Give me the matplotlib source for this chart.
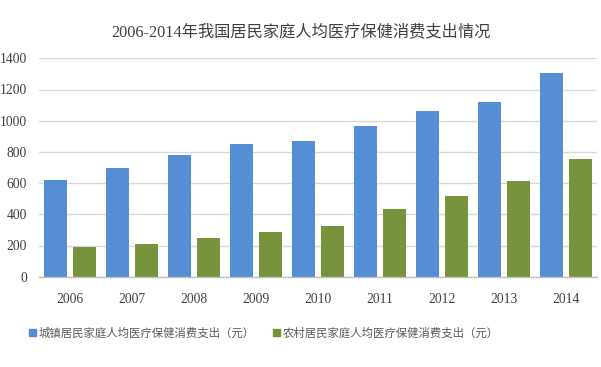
import matplotlib
matplotlib.use("Agg")
import matplotlib.pyplot as plt
import numpy as np
from matplotlib.patches import Patch

years = ["2006", "2007", "2008", "2009", "2010", "2011", "2012", "2013", "2014"]
urban = [620, 697, 782, 853, 868, 967, 1060, 1117, 1304]
rural = [190, 210, 245, 287, 325, 435, 515, 612, 754]
yticks = [0, 200, 400, 600, 800, 1000, 1200, 1400]
title = "2006-2014年我国居民家庭人均医疗保健消费支出情况"
labels = ["城镇居民家庭人均医疗保健消费支出（元）", "农村居民家庭人均医疗保健消费支出（元）"]

blue = "#558ED5"
green = "#77933C"
fam = ["Liberation Serif", "Noto Sans CJK SC", "DejaVu Sans"]
cjk = ["Noto Sans CJK SC", "DejaVu Sans"]

fig = plt.figure(figsize=(6.01, 3.67), dpi=100)
ax = fig.add_axes([39/601, 1-276.7/367, (597-39)/601, (276.7-58.3)/367])

x = np.arange(len(years))
w = 0.371
off = 0.226
ax.bar(x - off, urban, w, color=blue, zorder=3)
ax.bar(x + off, rural, w, color=green, zorder=3)

ax.set_xlim(-0.5, len(years) - 0.5)
ax.set_ylim(0, 1400)
ax.set_yticks(yticks)
ax.set_yticklabels([str(v) for v in yticks], family=fam, fontsize=9.8, color="#404040")
ax.set_xticks(x)
ax.set_xticklabels(years, family=fam, fontsize=9.8, color="#404040")
ax.tick_params(axis="both", length=0)
ax.tick_params(axis="y", pad=8.5)
ax.tick_params(axis="x", pad=12)
ax.yaxis.grid(True, color="#D9D9D9", linewidth=1.0, zorder=0)
for s in ["top", "right", "left"]:
    ax.spines[s].set_visible(False)
ax.spines["bottom"].set_color("#BFBFBF")
ax.spines["bottom"].set_linewidth(1.0)
ax.spines["bottom"].set_zorder(4)

fig.text(301/601, 1-32/367, title, ha="center", va="center", fontsize=11.7,
         family=fam, color="#404040")

handles = [Patch(color=blue), Patch(color=green)]
leg = fig.legend(handles, labels, loc="center left", bbox_to_anchor=(29/601, 1-333/367),
                 ncol=2, frameon=False, prop={"family": cjk, "size": 8.2},
                 handlelength=0.6, handleheight=0.6, handletextpad=0.25,
                 columnspacing=1.6, borderpad=0, borderaxespad=0)
for t in leg.get_texts():
    t.set_color("#595959")

fig.savefig("out.png", dpi=100)
